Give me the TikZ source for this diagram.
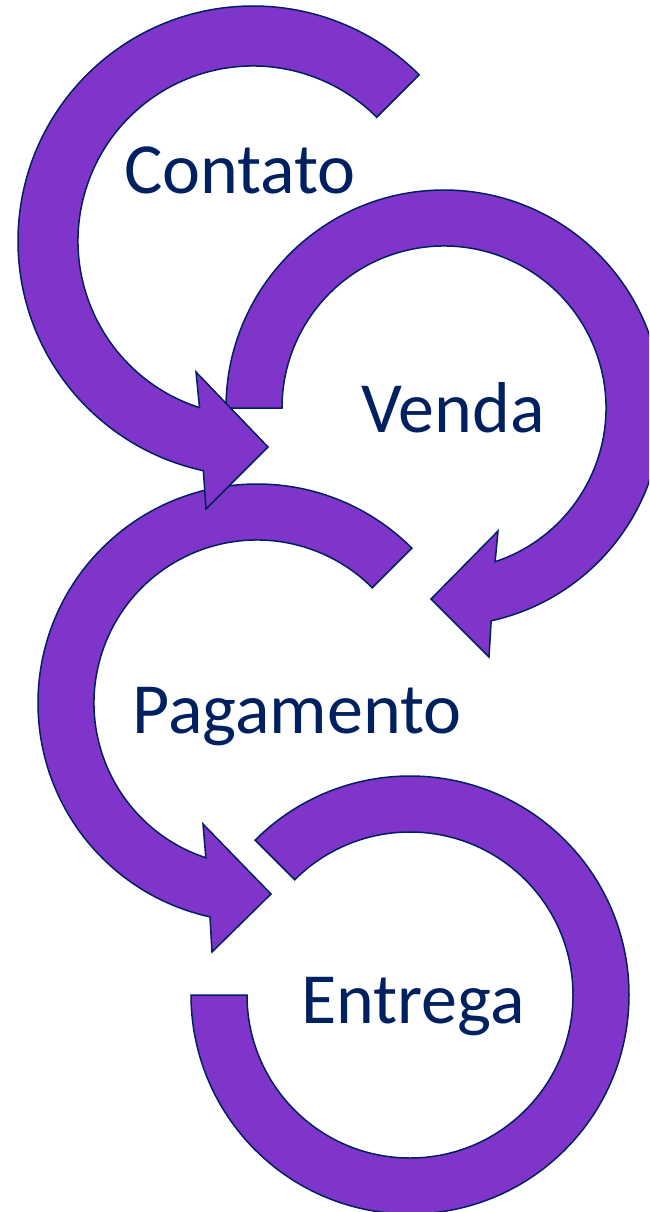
\documentclass[tikz,border=0pt]{standalone}
\usepackage{fontspec}
\setmainfont{Carlito}
\usepackage{xcolor}
\usepackage{tikz}
\definecolor{setaroxa}{RGB}{127,52,202}
\definecolor{azulescuro}{RGB}{0,32,96}
\tikzset{
	seta/.style={fill=setaroxa, draw=azulescuro, line width=1.5pt, line join=miter},
	rotulo/.style={text=azulescuro, anchor=base, inner sep=0pt, font=\fontsize{72}{86}\selectfont}
}
\begin{document}
\begin{tikzpicture}[x=1pt,y=1pt]
			\useasboundingbox (0,0) rectangle (649,-1212);
			\clip (0,0) rectangle (649,-1212);
			\coordinate (c1) at (253,-241);
			\coordinate (c2) at (444,-408);
			\coordinate (c3) at (257,-703);
			\coordinate (c4) at (410,-995);
			% Entrega
			\draw [seta] ([shift={(c4)}]135:219) arc [start angle=135, end angle=-180, radius=219] -- ([shift={(c4)}]180:163) arc [start angle=-180, end angle=135, radius=163] -- cycle;
			% Pagamento
			\draw [seta] ([shift={(c3)}]45:219) arc [start angle=45, end angle=257.6, radius=219] -- (212,-952) -- (271,-894) -- (203,-824) -- ([shift={(c3)}]251.7:163) arc [start angle=251.7, end angle=45, radius=163] -- cycle;
			% Venda
			\draw [seta] ([shift={(c2)}]180:218) arc [start angle=180, end angle=-77.5, radius=218] -- (489,-657) -- (431,-599) -- (498,-531) -- ([shift={(c2)}]-71.6:162) arc [start angle=-71.6, end angle=180, radius=162] -- cycle;
			% Contato
			\draw [seta] ([shift={(c1)}]45:235) arc [start angle=45, end angle=257.8, radius=235] -- (206,-509) -- (268,-447) -- (196,-372) -- ([shift={(c1)}]252.2:175) arc [start angle=252.2, end angle=45, radius=175] -- cycle;
			\node [rotulo] (contato) at (240,-193) {Contato};
			\node [rotulo] (venda) at (453,-432) {Venda};
			\node [rotulo] (pagamento) at (297,-733) {Pagamento};
			\node [rotulo] (entrega) at (413,-1023) {Entrega};
		\end{tikzpicture}
\end{document}
